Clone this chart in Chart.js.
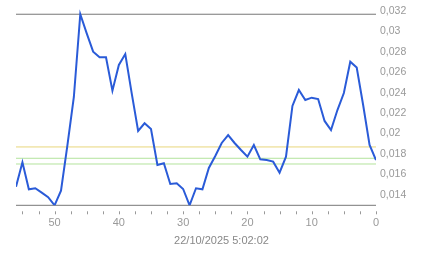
<!DOCTYPE html>
<html>
<head>
<meta charset="utf-8">
<script src="https://cdn.jsdelivr.net/npm/chart.js@4"></script>
<style>
  body { margin: 0; background: #fff; }
  canvas { display: block; }
</style>
</head>
<body>
<canvas id="chart" width="443" height="258"></canvas>
<script>
// minutes ago, left to right (56 .. 0)
const minutesAgo = [56, 55, 54, 53, 52, 51, 50, 49, 48, 47, 46, 45, 44, 43, 42, 41, 40, 39, 38, 37,
  36, 35, 34, 33, 32, 31, 30, 29, 28, 27, 26, 25, 24, 23, 22, 21, 20, 19, 18, 17,
  16, 15, 14, 13, 12, 11, 10, 9, 8, 7, 6, 5, 4, 3, 2, 1, 0];
const values = [0.01478, 0.01718, 0.01453, 0.01463, 0.0142, 0.01375, 0.01296, 0.01439, 0.01887, 0.02358,
  0.03169, 0.02982, 0.02802, 0.02747, 0.02747, 0.0242, 0.02672, 0.02779, 0.02394, 0.02025,
  0.021, 0.02044, 0.01691, 0.01708, 0.01505, 0.01512, 0.01456, 0.01296, 0.01463, 0.01453,
  0.01662, 0.0178, 0.01907, 0.01985, 0.01907, 0.01838, 0.01773, 0.01887, 0.01747, 0.0174,
  0.01724, 0.01616, 0.01773, 0.0227, 0.02426, 0.02328, 0.02351, 0.02338, 0.02123, 0.02034,
  0.0223, 0.02397, 0.02704, 0.02647, 0.02279, 0.01887, 0.0174];
const maxLine = 0.03169;
const minLine = 0.01296;
const refLines = [0.01868, 0.01757, 0.01701];
const refColors = ['#e8d67c', '#b3e39c', '#b3e39c'];
const yTicks = [0.014, 0.016, 0.018, 0.02, 0.022, 0.024, 0.026, 0.028, 0.03, 0.032];
const xTickLabels = [0, 10, 20, 30, 40, 50];
const dateLabel = '22/10/2025 5:02:02';

const flat = (v) => [{ x: 0, y: v }, { x: 56, y: v }];

const datasets = [{
  data: minutesAgo.map((m, i) => ({ x: m, y: values[i] })),
  borderColor: '#2a5bd8',
  borderWidth: 2,
  pointRadius: 0,
  tension: 0
}];
datasets.push({ data: flat(maxLine), borderColor: '#777', borderWidth: 1, pointRadius: 0, clip: false });
datasets.push({ data: flat(minLine), borderColor: '#777', borderWidth: 1, pointRadius: 0, clip: false });
refLines.forEach((v, i) => {
  datasets.push({ data: flat(v), borderColor: refColors[i], borderWidth: 1, pointRadius: 0, clip: false });
});

// short tick marks a few px below the axis, at every x tick
const tickDots = {
  id: 'tickDots',
  afterDraw(chart) {
    const s = chart.scales.x;
    const ctx = chart.ctx;
    ctx.save();
    ctx.strokeStyle = '#999';
    ctx.lineWidth = 1;
    ctx.beginPath();
    s.ticks.forEach(t => {
      const px = Math.round(s.getPixelForValue(t.value)) + 0.5;
      ctx.moveTo(px, s.top + 6);
      ctx.lineTo(px, s.top + 9);
    });
    ctx.stroke();
    ctx.restore();
  }
};

new Chart(document.getElementById('chart'), {
  type: 'line',
  data: { datasets },
  plugins: [tickDots],
  options: {
    responsive: false,
    animation: false,
    layout: { padding: { left: 0, top: 7, right: 0, bottom: 0 } },
    plugins: {
      legend: { display: false },
      tooltip: { enabled: false },
      title: {
        display: true,
        position: 'bottom',
        text: dateLabel,
        color: '#888',
        font: { family: 'Arial', size: 11, weight: 'normal' },
        padding: { top: 0, bottom: 10.4 }
      }
    },
    scales: {
      x: {
        type: 'linear',
        reverse: true,
        min: 0,
        max: 56,
        afterBuildTicks: (s) => {
          const t = [];
          for (let v = 0; v <= 55; v += 2.5) t.push({ value: v });
          s.ticks = t;
        },
        afterFit: (s) => { s.height = 29.1; },
        border: { display: false },
        grid: { display: false, drawTicks: true, tickLength: 9 },
        ticks: {
          autoSkip: false,
          maxRotation: 0,
          padding: 2,
          color: '#999',
          font: { family: 'Arial', size: 11 },
          callback: (v) => xTickLabels.includes(v) ? String(v) : ''
        }
      },
      y: {
        position: 'right',
        min: minLine,
        max: 0.0324,
        afterBuildTicks: (s) => { s.ticks = yTicks.map(v => ({ value: v })); },
        afterFit: (s) => { s.width = 67; },
        border: { display: false },
        grid: { display: false, drawTicks: true, tickLength: 4 },
        ticks: {
          padding: 0,
          color: '#999',
          font: { family: 'Arial', size: 10.5 },
          callback: (v) => String(+v.toFixed(3)).replace('.', ',')
        }
      },
      // empty left gutter so the line starts 16px in
      gutter: {
        type: 'linear',
        position: 'left',
        afterFit: (s) => { s.width = 16; },
        border: { display: false },
        grid: { display: false, drawTicks: false },
        ticks: { display: false }
      }
    }
  }
});
</script>
</body>
</html>
